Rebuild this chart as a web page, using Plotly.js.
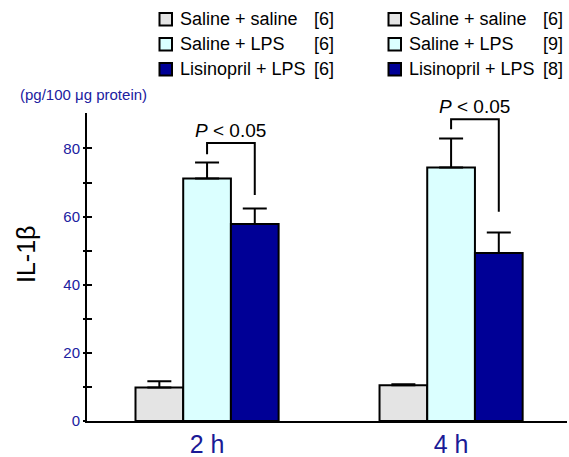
<!DOCTYPE html>
<html>
<head>
<meta charset="utf-8">
<script src="https://cdn.plot.ly/plotly-3.0.1.min.js"></script>
<style>html,body{margin:0;padding:0;background:#fff;}#chart{width:569px;height:457px;}</style>
</head>
<body>
<div id="chart"></div>
<script>
// ---- data ----
const categories = ['2 h', '4 h'];
const seriesNames = ['Saline + saline', 'Saline + LPS', 'Lisinopril + LPS'];
const nAt2h = [6, 6, 6];
const nAt4h = [6, 9, 8];
const salineSaline = [9.8, 10.5];
const salineSalineErr = [1.9, 0.3];
const salineLPS = [71.2, 74.4];
const salineLPSErr = [4.7, 8.5];
const lisinoprilLPS = [57.8, 49.3];
const lisinoprilLPSErr = [4.6, 6.0];
const bracketTop = [81.6, 88.6];
const bracketLeftEnd = [78.3, 85.6];
const bracketRightEnd = [66.3, 61.4];
const pLabels = ['<i>P</i> &lt; 0.05', '<i>P</i> &lt; 0.05'];
const yTickVals = [0, 10, 20, 30, 40, 50, 60, 70, 80];
const yTickText = ['0', '', '20', '', '40', '', '60', '', '80'];
const yTitle = 'IL-1\u03b2';
const unitText = '(pg/100 \u03bcg protein)';

// ---- styling / layout ----
const colors = ['#e4e4e4', '#dbffff', '#000096'];
const FONT = 'Liberation Sans, Arial, sans-serif';
const W = 569, H = 457;
const M = {l: 87, r: 2, t: 113, b: 36};
const plotW = W - M.l - M.r, plotH = H - M.t - M.b;
const xRange = [-0.492, 1.475];
const bargap = 0.4135;
const barW = (1 - bargap) / 3;
const px2x = px => (px - M.l) / plotW;
const px2y = py => (H - M.b - py) / plotH;

const xIdx = categories.map((c, i) => i);
const values = [salineSaline, salineLPS, lisinoprilLPS];
const errs = [salineSalineErr, salineLPSErr, lisinoprilLPSErr];

const traces = values.map((v, k) => ({
  type: 'bar', x: xIdx, y: v, name: seriesNames[k],
  marker: {color: colors[k], line: {color: '#000', width: 2}},
  error_y: {type: 'data', array: errs[k], arrayminus: v.map(() => 0), symmetric: false,
            color: '#000', thickness: 2, width: 12},
  showlegend: false, hoverinfo: 'skip'
}));

// significance brackets (cyan bar centre -> navy bar centre)
const bx = [], by = [];
xIdx.forEach(i => {
  bx.push(i, i, i + barW, i + barW, null);
  by.push(bracketLeftEnd[i], bracketTop[i], bracketTop[i], bracketRightEnd[i], null);
});
traces.push({type: 'scatter', mode: 'lines', x: bx, y: by, yaxis: 'y2',
  line: {color: '#000', width: 2}, showlegend: false, hoverinfo: 'skip', cliponaxis: false});

const annotations = [];
const shapes = [];
xIdx.forEach(i => {
  annotations.push({xref: 'x', yref: 'y', x: i + barW / 2, y: bracketTop[i], text: pLabels[i],
    showarrow: false, xanchor: 'center', yanchor: 'bottom', yshift: 0,
    font: {family: FONT, size: 19, color: '#000'}});
});
annotations.push({xref: 'paper', yref: 'paper', x: px2x(19), y: px2y(95), xanchor: 'left', yanchor: 'middle',
  text: unitText, showarrow: false, borderpad: 0,
  font: {family: FONT, size: 15, color: '#2020a0'}});
annotations.push({xref: 'paper', yref: 'paper', x: px2x(26), y: px2y(255), xanchor: 'center', yanchor: 'middle',
  text: yTitle, textangle: -90, showarrow: false, borderpad: 0,
  font: {family: FONT, size: 25, color: '#000'}});

// two legend columns (one per time point)
const legendCols = [{sq: 158.5, n: nAt2h}, {sq: 387.5, n: nAt4h}];
const rowY = [19.3, 44.2, 69.2];
legendCols.forEach(col => {
  seriesNames.forEach((nm, k) => {
    shapes.push({type: 'rect', xref: 'paper', yref: 'paper',
      x0: px2x(col.sq + 1), x1: px2x(col.sq + 13.5), y0: px2y(rowY[k] + 6.3), y1: px2y(rowY[k] - 6.3),
      line: {color: '#000', width: 2}, fillcolor: colors[k]});
    annotations.push({xref: 'paper', yref: 'paper', x: px2x(col.sq + 20.5), y: px2y(rowY[k]),
      xanchor: 'left', yanchor: 'middle', text: nm, showarrow: false, borderpad: 0,
      font: {family: FONT, size: 18, color: '#000'}});
    annotations.push({xref: 'paper', yref: 'paper', x: px2x(col.sq + 154.5), y: px2y(rowY[k]),
      xanchor: 'left', yanchor: 'middle', text: '[' + col.n[k] + ']', showarrow: false, borderpad: 0,
      font: {family: FONT, size: 18, color: '#000'}});
  });
});

const yRange = [0, 90.4];
const layout = {
  width: W, height: H, margin: M,
  paper_bgcolor: '#fff', plot_bgcolor: '#fff',
  font: {family: FONT},
  barmode: 'group', bargap: bargap, bargroupgap: 0,
  showlegend: false,
  xaxis: {range: xRange, tickvals: xIdx, ticktext: categories, ticks: '',
    showline: true, linecolor: '#000', linewidth: 2, showgrid: false, zeroline: false,
    tickfont: {family: FONT, size: 25, color: '#1a1a96'}, fixedrange: true},
  yaxis: {range: yRange, tickvals: yTickVals, ticks: 'inside', ticklen: 5, tickwidth: 2, tickcolor: '#000',
    showticklabels: false, showline: true, linecolor: '#000', linewidth: 2,
    showgrid: false, zeroline: false, fixedrange: true},
  yaxis2: {range: yRange, overlaying: 'y', anchor: 'x', side: 'left', tickvals: yTickVals, ticktext: yTickText,
    ticks: 'outside', ticklen: 3, tickwidth: 2, tickcolor: '#000', showline: false,
    showgrid: false, zeroline: false, fixedrange: true,
    tickfont: {family: FONT, size: 15, color: '#2020a0'}},
  annotations: annotations,
  shapes: shapes
};

Plotly.newPlot('chart', traces, layout, {staticPlot: true, displayModeBar: false});
</script>
</body>
</html>
